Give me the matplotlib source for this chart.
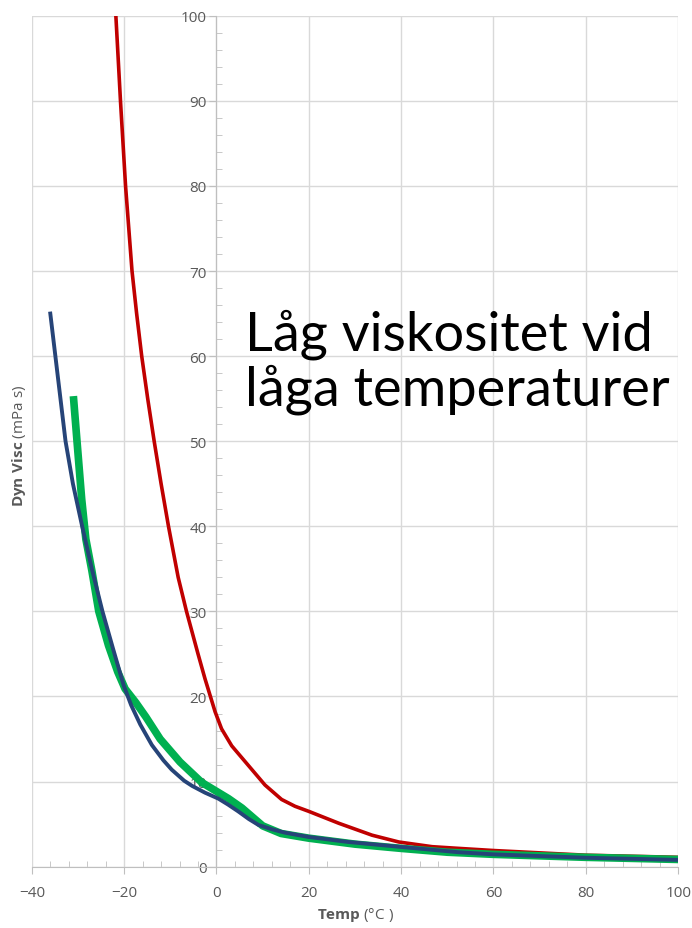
import matplotlib
matplotlib.use("Agg")
import matplotlib.pyplot as plt
from matplotlib.ticker import MultipleLocator

plt.rcParams['font.family'] = ['Open Sans', 'DejaVu Sans']
plt.rcParams['mathtext.fontset'] = 'custom'
plt.rcParams['mathtext.bf'] = 'Open Sans:bold'
plt.rcParams['mathtext.rm'] = 'Open Sans'

# values
temp_red = [-21.8, -20.8, -19.7, -18.3, -17.3, -16.2, -14.9, -13.5, -12.0, -10.4, -8.3, -6.5, -4.0,
            -2.5, -0.3, 1.1, 3.3, 6.9, 10.5, 14.1, 17.0, 20.0, 26.5, 33.7, 39.5, 46.7, 52.5,
            60, 80, 100]
visc_red = [100, 90, 80, 70, 65, 60, 55, 50, 45, 40, 34, 30, 25,
            22.1, 18.2, 16.2, 14.2, 11.9, 9.6, 7.9, 7.1, 6.5, 5.1, 3.7, 2.9, 2.35, 2.15,
            1.9, 1.35, 1.1]

temp_blue = [-36.0, -34.9, -33.8, -32.7, -31.1, -29.1, -27.0, -24.7, -22.4, -20.1, -18.5, -16.5,
             -14.0, -11.5, -9.7, -7.0, -5.3, -2.5, 0.4, 2.5, 4.7, 7.0, 9.1, 12.0, 14.8, 19.9,
             28.6, 39.4, 52.4, 60, 80, 100]
visc_blue = [65.0, 60.0, 55.0, 50.0, 45.0, 40.0, 35.0, 30.0, 25.6, 21.3, 19.0, 16.7,
             14.3, 12.5, 11.4, 10.1, 9.5, 8.7, 8.0, 7.3, 6.5, 5.6, 4.9, 4.4, 4.0, 3.5,
             2.9, 2.35, 1.7, 1.45, 1.05, 0.8]

temp_green = [-31.0, -30.2, -29.2, -28.3, -27.0, -25.5, -23.4, -21.4, -19.8, -17.5, -15.3, -12.2,
              -7.9, -3.2, 2.6, 5.5, 10.0, 14.0, 20, 30, 40, 50, 60, 80, 100]
visc_green = [55.3, 49.9, 43.2, 38.5, 34.8, 30.0, 26.0, 22.9, 20.9, 19.3, 17.6, 15.0,
              12.3, 9.9, 8.0, 6.9, 4.8, 3.9, 3.35, 2.65, 2.15, 1.7, 1.45, 1.1, 0.85]

x_ticks = [-40, -20, 0, 20, 40, 60, 80, 100]
y_ticks = [0, 10, 20, 30, 40, 50, 60, 70, 80, 90, 100]
note_lines = ['Låg viskositet vid', 'låga temperaturer']

fig = plt.figure(figsize=(6.92, 9.29), dpi=100)
ax = fig.add_axes([0.046, 0.066, 0.934, 0.916])

ax.plot(temp_red, visc_red, color='#c00000', lw=2.6, zorder=3)
ax.plot(temp_green, visc_green, color='#00b050', lw=5.5, solid_capstyle='butt', zorder=4)
ax.plot(temp_blue, visc_blue, color='#264478', lw=2.8, zorder=5)

ax.set_xlim(-40, 100)
ax.set_ylim(0, 100)
ax.set_xticks(x_ticks)
ax.set_yticks(y_ticks)
ax.xaxis.set_minor_locator(MultipleLocator(4))
ax.yaxis.set_minor_locator(MultipleLocator(2))
ax.grid(True, which='major', color='#d9d9d9', lw=1)

for s in ['top', 'right']:
    ax.spines[s].set_visible(False)
ax.spines['left'].set_position(('data', 0))
ax.spines['bottom'].set_position(('data', 0))
for s in ['left', 'bottom']:
    ax.spines[s].set_color('#bfbfbf')
    ax.spines[s].set_zorder(2)

ax.tick_params(which='major', direction='out', length=5, color='#bfbfbf',
               labelcolor='#595959', labelsize=11)
ax.tick_params(which='minor', direction='in', length=4, color='#bfbfbf')
ax.tick_params(axis='y', pad=2)
ax.tick_params(axis='x', pad=8)

ax.set_xlabel(r'$\bf{Temp}$ ($\degree$C )', color='#595959', fontsize=11, labelpad=4)
fig.text(0.028, 0.52, r'$\bf{Dyn\ Visc}$ (mPa s)', rotation=90, color='#595959',
         fontsize=11, ha='center', va='center')

# big note, one baseline per line
for line, yb in zip(note_lines, [0.6222, 0.564]):
    fig.text(0.354, yb, line, fontsize=39, color='black',
             ha='left', va='baseline', family=['Lato', 'DejaVu Sans'])

fig.savefig('out.png', dpi=100)
